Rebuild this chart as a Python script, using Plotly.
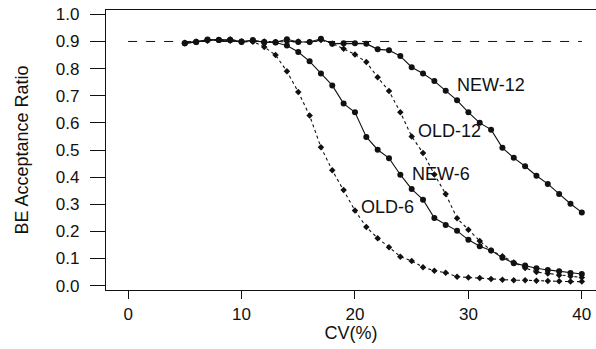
import plotly.graph_objects as go

cv = list(range(5, 41))

new12 = [0.893, 0.898, 0.905, 0.905, 0.905, 0.898, 0.905, 0.896, 0.897, 0.908, 0.898, 0.898,
         0.910, 0.892, 0.893, 0.893, 0.892, 0.871, 0.868, 0.846, 0.805, 0.782, 0.754, 0.718,
         0.683, 0.639, 0.600, 0.575, 0.508, 0.471, 0.440, 0.405, 0.375, 0.338, 0.302, 0.270]
new6 = [0.893, 0.898, 0.907, 0.905, 0.905, 0.900, 0.903, 0.898, 0.896, 0.885, 0.861, 0.827,
        0.782, 0.738, 0.671, 0.639, 0.548, 0.501, 0.470, 0.409, 0.356, 0.317, 0.249, 0.224,
        0.202, 0.169, 0.145, 0.130, 0.103, 0.083, 0.074, 0.064, 0.058, 0.053, 0.047, 0.043]
old12 = [0.895, 0.900, 0.903, 0.906, 0.903, 0.898, 0.900, 0.900, 0.898, 0.900, 0.900, 0.898,
         0.905, 0.892, 0.873, 0.852, 0.824, 0.768, 0.717, 0.639, 0.550, 0.489, 0.410, 0.338,
         0.248, 0.206, 0.165, 0.130, 0.108, 0.085, 0.065, 0.050, 0.045, 0.038, 0.035, 0.030]
old6 = [0.893, 0.898, 0.905, 0.905, 0.908, 0.900, 0.900, 0.880, 0.850, 0.790, 0.714, 0.627,
        0.510, 0.425, 0.353, 0.277, 0.216, 0.175, 0.142, 0.107, 0.091, 0.068, 0.055, 0.048,
        0.033, 0.030, 0.028, 0.025, 0.022, 0.020, 0.020, 0.018, 0.017, 0.016, 0.015, 0.015]

ref_x = [0, 40]
ref_y = [0.9, 0.9]

labels = ["NEW-12", "OLD-12", "NEW-6", "OLD-6"]
label_x = [32.0, 28.35, 27.6, 22.9]
label_y = [0.738, 0.571, 0.413, 0.289]

xticks = [0, 10, 20, 30, 40]
yticks = [0.0, 0.1, 0.2, 0.3, 0.4, 0.5, 0.6, 0.7, 0.8, 0.9, 1.0]

INK = "#111111"
FONT = "Liberation Sans, Arial"
fig = go.Figure()
fig.add_trace(go.Scatter(x=ref_x, y=ref_y, mode="lines",
                         line=dict(color=INK, width=1, dash="dash")))
for ys in (old6, old12):
    fig.add_trace(go.Scatter(x=cv, y=ys, mode="lines+markers",
                             line=dict(color=INK, width=1.1, dash="dot"),
                             marker=dict(symbol="diamond", size=5, color=INK)))
for ys in (new6, new12):
    fig.add_trace(go.Scatter(x=cv, y=ys, mode="lines+markers",
                             line=dict(color=INK, width=1.1),
                             marker=dict(symbol="circle", size=6, color=INK)))

for t, lx, ly in zip(labels, label_x, label_y):
    fig.add_annotation(x=lx, y=ly, text=t, showarrow=False,
                       font=dict(family=FONT, size=18, color=INK))

fig.update_layout(
    width=596, height=349,
    margin=dict(l=106, r=0, t=10, b=59),
    paper_bgcolor="white", plot_bgcolor="white",
    showlegend=False,
    font=dict(family=FONT, color=INK),
)
fig.update_xaxes(range=[-1.95, 41.25], tickvals=xticks, ticktext=[str(v) for v in xticks],
                 showgrid=False, zeroline=False, showline=True, linecolor=INK, linewidth=1.2,
                 mirror=True, ticks="outside", ticklen=8, tickcolor=INK,
                 tickfont=dict(size=17),
                 title=dict(text="CV(%)", font=dict(size=18), standoff=2))
fig.update_yaxes(range=[-0.016, 1.016], tickvals=yticks, ticktext=[f"{v:.1f}" for v in yticks],
                 showgrid=False, zeroline=False, showline=True, linecolor=INK, linewidth=1.2,
                 ticks="outside", ticklen=15, tickcolor=INK, ticklabelstandoff=7,
                 tickfont=dict(size=17),
                 title=dict(text="BE Acceptance Ratio", font=dict(size=18), standoff=22))

fig.write_html("out.html")
